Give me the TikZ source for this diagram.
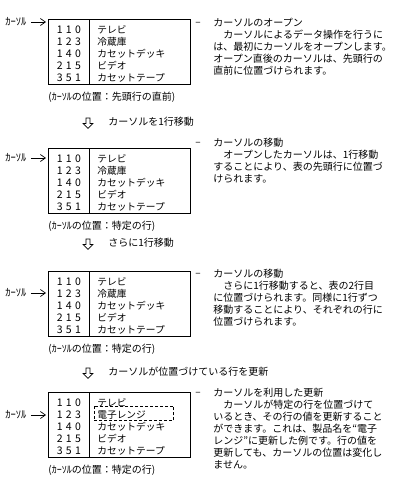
\documentclass[tikz,border=0pt]{standalone}
\usepackage{fontspec}
\setmainfont{Noto Sans CJK JP}
\usetikzlibrary{matrix,arrows.meta,calc}
\newcommand{\tnum}[3]{{\fontsize{10.5}{12}\selectfont#1\kern3.2pt#2\kern3.2pt#3}}
\begin{document}
\begin{tikzpicture}[x=1pt,y=-1pt,
  line width=0.8pt,
  tbl/.style={matrix of nodes, inner sep=0pt, column sep=0pt, row sep=0pt, anchor=north west,
    nodes={inner sep=0pt, text height=9pt, text depth=3pt, font=\fontsize{9.7}{12}\selectfont},
    column 1/.style={nodes={text width=41pt, align=center}},
    column 2/.style={nodes={text width=85pt, inner xsep=8pt, align=left}}},
  curlab/.style={anchor=west, inner sep=0pt, font=\fontsize{10.5}{12}\selectfont},
  cur/.style={-{Straight Barb[length=5pt,width=7pt]}, line width=0.7pt, shorten <=4pt},
  captxt/.style={anchor=west, inner sep=0pt, font=\fontsize{10}{12}\selectfont},
  para/.style={anchor=north west, inner sep=0pt, align=left, font=\fontsize{10}{12}\selectfont},
  dashn/.style={anchor=west, inner sep=0pt, font=\fontsize{10}{12}\selectfont},
  lab/.style={anchor=west, inner sep=0pt, font=\fontsize{10}{12}\selectfont},
  harrow/.style={draw, line width=0.7pt, line join=miter},
  upd/.style={dashed, dash pattern=on 3pt off 2pt, line width=0.7pt}]
\fill[white] (0,0) rectangle (400,490);
\useasboundingbox (0,0) rectangle (400,490);

% ---------- panel 1 ----------
\matrix (t1) [tbl] at (48,24) {
  \tnum110 & テレビ \\
  \tnum123 & 冷蔵庫 \\
  \tnum140 & カセットデッキ \\
  \tnum215 & ビデオ \\
  \tnum351 & カセットテープ \\
};
\draw ([yshift=5pt]t1.north west) rectangle (t1.south east);
\draw ([yshift=5pt]t1-1-1.north east) -- (t1-5-1.south east);
\node[curlab] (k1) at (5,22) {ｶｰｿﾙ};
\coordinate (e1) at (46,22);
\draw[cur] (k1.east) -- (e1);
\node[captxt] (c1) at (48,97) {(ｶｰｿﾙの位置：先頭行の直前)};
\node[dashn] (d1) at (195,24) {–};
\node[para] (p1) at (213,17.5) {カーソルのオープン\\　カーソルによるデータ操作を行うに\\は、最初にカーソルをオープンします。\\オープン直後のカーソルは、先頭行の\\直前に位置づけられます。};

% ---------- arrow 1 ----------
\coordinate (a1) at (88,118);
\draw[harrow] ($(a1)+(-2,0)$) -- ++(0,5.5) -- ++(-2.8,0) -- ++(4.8,4.8) -- ++(4.8,-4.8) -- ++(-2.8,0) -- ++(0,-5.5) -- cycle;
\node[lab] (m1) at (108,122) {カーソルを1行移動};

% ---------- panel 2 ----------
\matrix (t2) [tbl] at (48,153) {
  \tnum110 & テレビ \\
  \tnum123 & 冷蔵庫 \\
  \tnum140 & カセットデッキ \\
  \tnum215 & ビデオ \\
  \tnum351 & カセットテープ \\
};
\draw ([yshift=5pt]t2.north west) rectangle (t2.south east);
\draw ([yshift=5pt]t2-1-1.north east) -- (t2-5-1.south east);
\node[curlab] (k2) at (5,158) {ｶｰｿﾙ};
\coordinate (e2) at (46,158);
\draw[cur] (k2.east) -- (e2);
\node[captxt] (c2) at (48,226) {(ｶｰｿﾙの位置：特定の行)};
\node[dashn] (d2) at (195,144) {–};
\node[para] (p2) at (213,137.5) {カーソルの移動\\　オープンしたカーソルは、1行移動\\することにより、表の先頭行に位置づ\\けられます。};

% ---------- arrow 2 ----------
\coordinate (a2) at (88,239);
\draw[harrow] ($(a2)+(-2,0)$) -- ++(0,5.5) -- ++(-2.8,0) -- ++(4.8,4.8) -- ++(4.8,-4.8) -- ++(-2.8,0) -- ++(0,-5.5) -- cycle;
\node[lab] (m2) at (108,243) {さらに1行移動};

% ---------- panel 3 ----------
\matrix (t3) [tbl] at (48,276) {
  \tnum110 & テレビ \\
  \tnum123 & 冷蔵庫 \\
  \tnum140 & カセットデッキ \\
  \tnum215 & ビデオ \\
  \tnum351 & カセットテープ \\
};
\draw ([yshift=5pt]t3.north west) rectangle (t3.south east);
\draw ([yshift=5pt]t3-1-1.north east) -- (t3-5-1.south east);
\node[curlab] (k3) at (5,293) {ｶｰｿﾙ};
\coordinate (e3) at (46,293);
\draw[cur] (k3.east) -- (e3);
\node[captxt] (c3) at (48,349) {(ｶｰｿﾙの位置：特定の行)};
\node[dashn] (d3) at (195,275) {–};
\node[para] (p3) at (213,268.5) {カーソルの移動\\　さらに1行移動すると、表の2行目\\に位置づけられます。同様に1行ずつ\\移動することにより、それぞれの行に\\位置づけられます。};

% ---------- arrow 3 ----------
\coordinate (a3) at (88,368);
\draw[harrow] ($(a3)+(-2,0)$) -- ++(0,5.5) -- ++(-2.8,0) -- ++(4.8,4.8) -- ++(4.8,-4.8) -- ++(-2.8,0) -- ++(0,-5.5) -- cycle;
\node[lab] (m3) at (108,372) {カーソルが位置づけている行を更新};

% ---------- panel 4 ----------
\matrix (t4) [tbl] at (48,397) {
  \tnum110 & テレビ \\
  \tnum123 & 電子レンジ \\
  \tnum140 & カセットデッキ \\
  \tnum215 & ビデオ \\
  \tnum351 & カセットテープ \\
};
\draw ([yshift=5pt]t4.north west) rectangle (t4.south east);
\draw ([yshift=5pt]t4-1-1.north east) -- (t4-5-1.south east);
\draw[upd] ([xshift=5pt,yshift=3pt]t4-2-2.north west) rectangle ([xshift=-17pt,yshift=1pt]t4-2-2.south east);
\node[curlab] (k4) at (5,415) {ｶｰｿﾙ};
\coordinate (e4) at (46,415);
\draw[cur] (k4.east) -- (e4);
\node[captxt] (c4) at (48,470) {(ｶｰｿﾙの位置：特定の行)};
\node[dashn] (d4) at (195,394) {–};
\node[para] (p4) at (213,387.5) {カーソルを利用した更新\\　カーソルが特定の行を位置づけて\\いるとき、その行の値を更新すること\\ができます。これは、製品名を“電子\\レンジ”に更新した例です。行の値を\\更新しても、カーソルの位置は変化し\\ません。};
\end{tikzpicture}
\end{document}
